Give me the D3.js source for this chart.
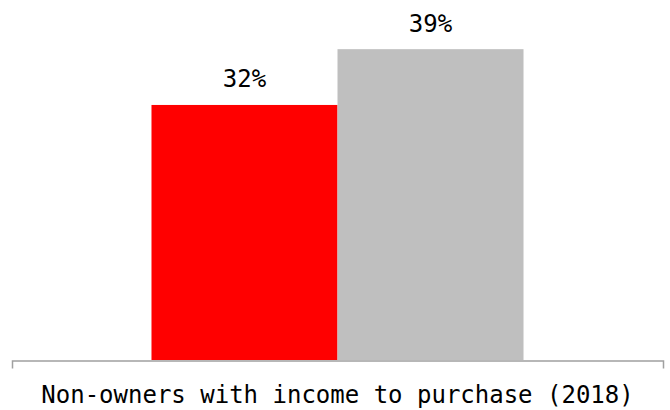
<!DOCTYPE html>
<html>
<head>
<meta charset="utf-8">
<script src="https://cdn.jsdelivr.net/npm/d3@7"></script>
<style>
  html, body { margin: 0; padding: 0; background: #fff; }
  svg { display: block; }
  text { font-family: "DejaVu Sans Mono", monospace; }
</style>
</head>
<body>
<div id="chart"></div>
<script>
// Categories, series and values
const categories = ["Non-owners with income to purchase (2018)"];
const seriesNames = ["Local", "National"];
const seriesValues = [[32], [39]];
const seriesColors = ["#ff0000", "#bfbfbf"];

const width = 670, height = 410;
const baseline = 360;

const svg = d3.select("#chart").append("svg")
  .attr("width", width)
  .attr("height", height);

const x0 = d3.scaleBand()
  .domain(categories)
  .range([12, 663])
  .padding(0.2727);

const x1 = d3.scaleBand()
  .domain(seriesNames)
  .range([0, x0.bandwidth()])
  .padding(0);

const y = d3.scaleLinear()
  .domain([0, 45])
  .range([baseline, baseline - 45 * 7.97]);

const rows = [];
categories.forEach((c, ci) => {
  seriesNames.forEach((s, si) => {
    rows.push({ category: c, series: s, value: seriesValues[si][ci], color: seriesColors[si] });
  });
});

// Bars
svg.append("g").selectAll("rect")
  .data(rows)
  .join("rect")
  .attr("x", d => x0(d.category) + x1(d.series))
  .attr("y", d => y(d.value))
  .attr("width", x1.bandwidth())
  .attr("height", d => y(0) - y(d.value))
  .attr("fill", d => d.color);

// Value labels
svg.append("g").selectAll("text")
  .data(rows)
  .join("text")
  .attr("x", d => x0(d.category) + x1(d.series) + x1.bandwidth() / 2)
  .attr("y", d => y(d.value) - 17.5)
  .attr("text-anchor", "middle")
  .attr("font-size", 24)
  .attr("fill", "#000")
  .text(d => d.value + "%");

// Category axis
const axis = svg.append("g")
  .attr("transform", `translate(0,${baseline + 0.5})`)
  .call(d3.axisBottom(x0).tickSizeInner(0).tickSizeOuter(8).tickPadding(25));

axis.select(".domain")
  .attr("stroke", "#a0a0a0")
  .attr("stroke-width", 1.5);
axis.selectAll(".tick text")
  .attr("font-size", 24)
  .attr("font-family", "DejaVu Sans Mono, monospace")
  .attr("fill", "#000");
</script>
</body>
</html>
